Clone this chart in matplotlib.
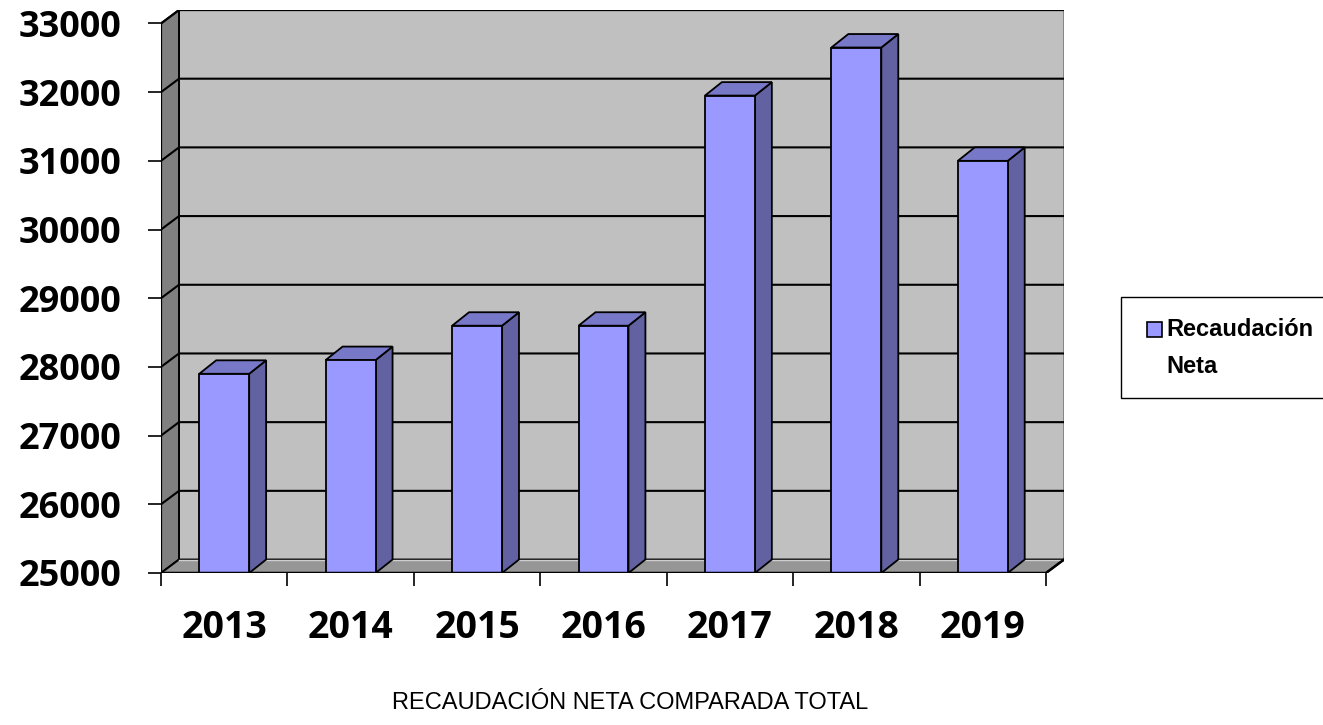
import matplotlib
matplotlib.use("Agg")
import matplotlib.pyplot as plt
from matplotlib.patches import Polygon, Rectangle

years = ['2013', '2014', '2015', '2016', '2017', '2018', '2019']
recaudacion = [27900, 28100, 28600, 28600, 31950, 32650, 31000]
yticks = [25000, 26000, 27000, 28000, 29000, 30000, 31000, 32000, 33000]
serie = 'Recaudación\nNeta'
titulo = 'RECAUDACIÓN NETA COMPARADA TOTAL'

ymin, ymax = 25000, 33000
n = len(years)
dx = 0.1424   # depth offset in category units (~18 px)
dy = 196      # depth offset in value units (~13.5 px)
bw = 0.395    # bar width
bdx = 0.134   # bar side depth

W, H = 1323, 725
fig = plt.figure(figsize=(W / 100, H / 100), dpi=100)
ax = fig.add_axes([161 / W, (H - 573) / H, (1064 - 161) / W, (573 - 10) / H])
ax.set_xlim(0, n + dx)
ax.set_ylim(ymin, ymax + dy)
for s in ax.spines.values():
    s.set_visible(False)

# walls and floor
ax.add_patch(Rectangle((dx, ymin + dy), n, ymax - ymin, fc='#c0c0c0', ec='none', zorder=1))
ax.plot([n + dx, n + dx], [ymin + dy, ymax + dy], color='#808080', lw=2, zorder=2)
ax.plot([dx, n + dx], [ymax + dy, ymax + dy], color='#202020', lw=1.6, zorder=2)
ax.add_patch(Polygon([(0, ymin), (dx, ymin + dy), (dx, ymax + dy), (0, ymax)],
                     closed=True, fc='#808080', ec='black', lw=1.4, zorder=2))
ax.add_patch(Polygon([(0, ymin), (n, ymin), (n + dx, ymin + dy), (dx, ymin + dy)],
                     closed=True, fc='#969696', ec='black', lw=1.4, zorder=2))
ax.plot([dx, n + dx], [ymin + dy, ymin + dy], color='#d0d0d0', lw=1, zorder=2)

# gridlines
for v in yticks[1:]:
    ax.plot([0, dx, n + dx], [v, v + dy, v + dy], color='black', lw=1.5, zorder=3)

# bars
for i, val in enumerate(recaudacion):
    x0 = i + 0.5 - bw / 2
    x1 = x0 + bw
    ax.add_patch(Polygon([(x1, ymin), (x1 + bdx, ymin + dy), (x1 + bdx, val + dy), (x1, val)],
                         closed=True, fc='#6262a2', ec='black', lw=1.3, zorder=4))
    ax.add_patch(Polygon([(x0, val), (x1, val), (x1 + bdx, val + dy), (x0 + bdx, val + dy)],
                         closed=True, fc='#7878c8', ec='black', lw=1.3, zorder=4))
    ax.add_patch(Rectangle((x0, ymin), bw, val - ymin, fc='#9999ff', ec='black', lw=1.3, zorder=5))

# front edges
ax.plot([0, 0], [ymin, ymax], color='black', lw=1.6, zorder=6)
ax.plot([0, n, n + dx], [ymin, ymin, ymin + dy], color='black', lw=1.8, zorder=6)

# ticks
ax.set_yticks(yticks)
ax.set_yticklabels([str(v) for v in yticks], fontfamily='Open Sans',
                   fontweight='bold', fontsize=26)
ax.tick_params(axis='y', length=9.5, width=1.2, pad=19)
ax.set_xticks(range(n + 1))
ax.set_xticklabels([])
ax.set_xticks([i + 0.5 for i in range(n)], minor=True)
ax.set_xticklabels(years, minor=True, fontfamily='Open Sans', fontweight='bold', fontsize=27)
ax.tick_params(axis='x', which='major', length=9, width=1.2)
ax.tick_params(axis='x', which='minor', length=0, pad=26)

# title below
fig.text(630 / W, 1 - 703 / H, titulo, ha='center', va='center',
         fontfamily='Liberation Sans', fontsize=17)

# legend (box runs off the right edge, as in the original)
fig.patches.append(Rectangle((1121 / W, 1 - 398 / H), 300 / W, 101 / H,
                             transform=fig.transFigure, fc='white', ec='black', lw=1))
fig.patches.append(Rectangle((1147 / W, 1 - 337 / H), 15 / W, 15 / H,
                             transform=fig.transFigure, fc='#9999ff', ec='black', lw=1.2))
fig.text(1166 / W, 1 - 329 / H, serie.split('\n')[0], ha='left', va='center',
         fontfamily='Liberation Sans', fontweight='bold', fontsize=17)
fig.text(1166 / W, 1 - 366 / H, serie.split('\n')[1], ha='left', va='center',
         fontfamily='Liberation Sans', fontweight='bold', fontsize=17)

fig.savefig('out.png', dpi=100)
